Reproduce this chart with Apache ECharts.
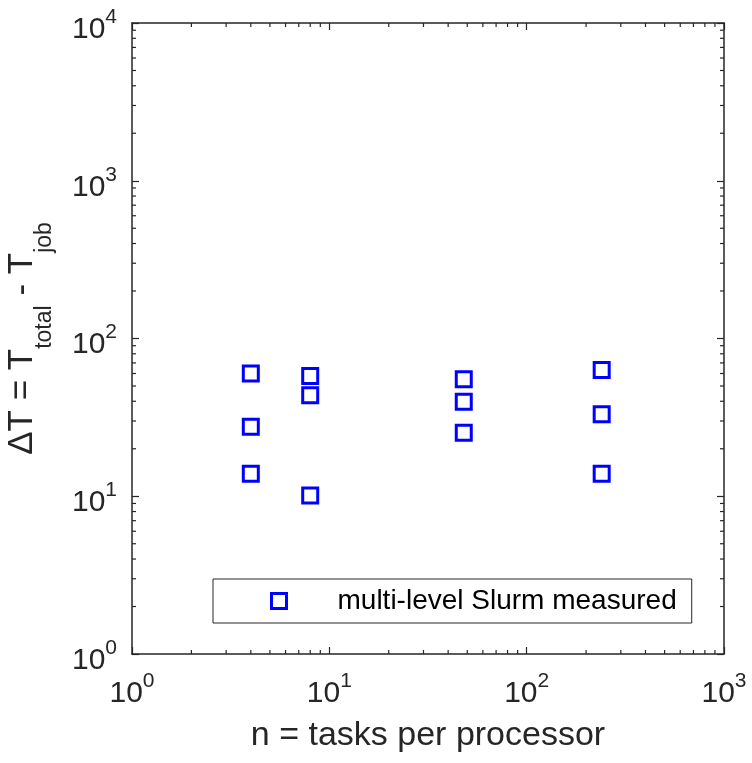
<!DOCTYPE html>
<html>
<head>
<meta charset="utf-8">
<script src="https://cdn.jsdelivr.net/npm/echarts@6/dist/echarts.min.js"></script>
<style>
    html, body { margin: 0; padding: 0; background: #fff; }
    #chart { width: 752px; height: 763px; }
</style>
</head>
<body>
<div id="chart"></div>
<script>
    // n = tasks per processor
    var tasksPerProc = [4, 8, 48, 240];
    // ΔT measured, three runs per n
    var deltaHigh = [60.1, 57.8, 55.1, 63.1];
    var deltaMid = [27.6, 43.6, 39.7, 33.1];
    var deltaLow = [13.9, 10.1, 25.3, 13.9];
    var seriesName = 'multi-level Slurm measured';

    var xRange = [1, 1000];
    var yRange = [1, 10000];

    var axisColor = '#262626';
    var fontFamily = '"Liberation Sans", Arial, Helvetica, sans-serif';
    var blue = '#0000ff';

    var points = [];
    [deltaHigh, deltaMid, deltaLow].forEach(function (run) {
        run.forEach(function (v, i) {
            points.push([tasksPerProc[i], v]);
        });
    });

    // minor ticks at 2..9 x 10^k, drawn on all four sides of the box
    var minorTicks = [];
    function addMinor(range, kind) {
        for (var dec = range[0]; dec < range[1]; dec *= 10) {
            for (var m = 2; m <= 9; m++) {
                var v = m * dec;
                minorTicks.push(kind === 0 ? [v, yRange[0], 0] : [xRange[0], v, 1]);
            }
        }
    }
    addMinor(xRange, 0);
    addMinor(yRange, 1);

    var powerRich = {
        b: { fontSize: 30, lineHeight: 46, color: axisColor, fontFamily: fontFamily },
        e: { fontSize: 21, lineHeight: 24, verticalAlign: 'top', color: axisColor, fontFamily: fontFamily }
    };
    function powerLabel(v) {
        return '{b|10}{e|' + Math.round(Math.log10(v)) + '}';
    }

    var chart = echarts.init(document.getElementById('chart'));
    var option = {
        animation: false,
        grid: { left: 132, right: 28, top: 23, bottom: 109, outerBoundsMode: 'none' },
        legend: {
            left: 213,
            top: 579,
            orient: 'horizontal',
            padding: [8, 15, 8, 57],
            borderColor: axisColor,
            borderWidth: 1,
            itemWidth: 15,
            itemHeight: 15,
            textStyle: { fontSize: 28, color: '#000', fontFamily: fontFamily, padding: [0, 0, 0, 46] },
            data: [{
                name: seriesName,
                icon: 'rect',
                itemStyle: { color: 'rgba(0,0,0,0)', borderColor: blue, borderWidth: 3 }
            }]
        },
        xAxis: [{
            type: 'log',
            logBase: 10,
            min: xRange[0],
            max: xRange[1],
            position: 'bottom',
            name: 'n = tasks per processor',
            nameLocation: 'middle',
            nameGap: 62,
            nameTextStyle: { fontSize: 34, lineHeight: 40, color: axisColor, fontFamily: fontFamily },
            axisLine: { onZero: false, lineStyle: { color: axisColor, width: 1.5 } },
            axisTick: { inside: true, length: 7, lineStyle: { color: axisColor, width: 1.2 } },
            axisLabel: { margin: 17, formatter: powerLabel, rich: powerRich },
            splitLine: { show: false }
        }, {
            type: 'log',
            logBase: 10,
            min: xRange[0],
            max: xRange[1],
            position: 'top',
            axisLine: { onZero: false, lineStyle: { color: axisColor, width: 1.5 } },
            axisTick: { inside: true, length: 7, lineStyle: { color: axisColor, width: 1.2 } },
            axisLabel: { show: false },
            splitLine: { show: false }
        }],
        yAxis: [{
            type: 'log',
            logBase: 10,
            min: yRange[0],
            max: yRange[1],
            position: 'left',
            name: '{a|ΔT = T}{s|total}{a| - T}{s|job}',
            nameLocation: 'middle',
            nameRotate: 90,
            nameGap: 76,
            nameTextStyle: {
                rich: {
                    a: { fontSize: 35, lineHeight: 68, color: axisColor, fontFamily: fontFamily },
                    s: { fontSize: 23, lineHeight: 22, verticalAlign: 'bottom', color: axisColor, fontFamily: fontFamily }
                }
            },
            axisLine: { onZero: false, lineStyle: { color: axisColor, width: 1.5 } },
            axisTick: { inside: true, length: 7, lineStyle: { color: axisColor, width: 1.2 } },
            axisLabel: { margin: 15, padding: [13, 0, 0, 0], formatter: powerLabel, rich: powerRich },
            splitLine: { show: false }
        }, {
            type: 'log',
            logBase: 10,
            min: yRange[0],
            max: yRange[1],
            position: 'right',
            axisLine: { onZero: false, lineStyle: { color: axisColor, width: 1.5 } },
            axisTick: { inside: true, length: 7, lineStyle: { color: axisColor, width: 1.2 } },
            axisLabel: { show: false },
            splitLine: { show: false }
        }],
        series: [{
            name: seriesName,
            type: 'scatter',
            xAxisIndex: 0,
            yAxisIndex: 0,
            symbol: 'rect',
            symbolSize: 15,
            itemStyle: { color: 'rgba(0,0,0,0)', borderColor: blue, borderWidth: 3, opacity: 1 },
            data: points
        }, {
            name: 'minor ticks',
            type: 'custom',
            xAxisIndex: 0,
            yAxisIndex: 0,
            silent: true,
            clip: false,
            encode: { x: 0, y: 1 },
            data: minorTicks,
            renderItem: function (params, api) {
                var rect = params.coordSys;
                var len = 4;
                var style = { stroke: axisColor, lineWidth: 1.2 };
                if (api.value(2) === 0) {
                    var px = api.coord([api.value(0), yRange[0]])[0];
                    return {
                        type: 'group',
                        children: [
                            { type: 'line', shape: { x1: px, y1: rect.y + rect.height, x2: px, y2: rect.y + rect.height - len }, style: style },
                            { type: 'line', shape: { x1: px, y1: rect.y, x2: px, y2: rect.y + len }, style: style }
                        ]
                    };
                }
                var py = api.coord([xRange[0], api.value(1)])[1];
                return {
                    type: 'group',
                    children: [
                        { type: 'line', shape: { x1: rect.x, y1: py, x2: rect.x + len, y2: py }, style: style },
                        { type: 'line', shape: { x1: rect.x + rect.width, y1: py, x2: rect.x + rect.width - len, y2: py }, style: style }
                    ]
                };
            }
        }]
    };
    chart.setOption(option);
</script>
</body>
</html>
